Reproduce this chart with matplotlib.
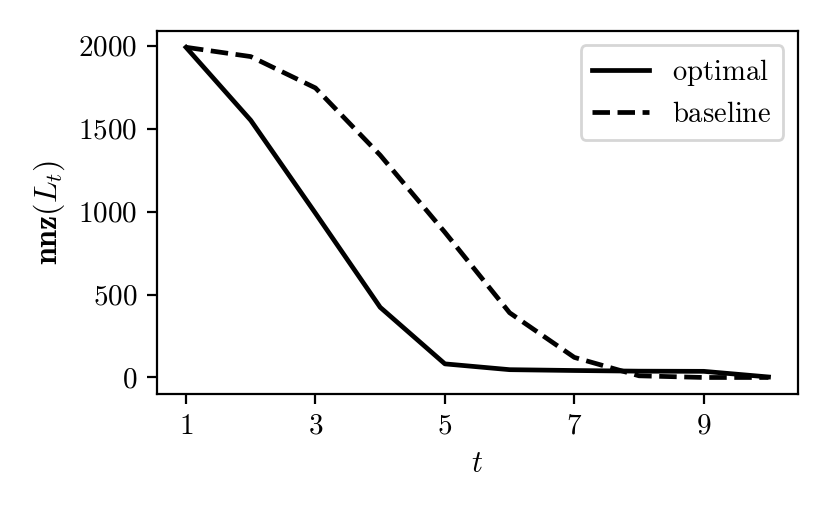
import numpy as np
import matplotlib
matplotlib.use("Agg")
import matplotlib.pyplot as plt

plt.rcParams['mathtext.fontset'] = 'cm'
plt.rcParams['font.family'] = 'serif'
plt.rcParams['font.serif'] = ['cmr10', 'DejaVu Serif']
plt.rcParams['axes.formatter.use_mathtext'] = True

# data
t = [1, 2, 3, 4, 5, 6, 7, 8, 9, 10]
optimal = [1990, 1550, 990, 423, 82, 47, 42, 38, 37, 3]
baseline = [1990, 1934, 1745, 1340, 875, 390, 121, 10, 0, 0]
xticks = [1, 3, 5, 7, 9]

fig = plt.figure(figsize=(4.15, 2.565), dpi=200)
ax = fig.add_axes([0.189, 0.232, 0.772, 0.708])

ax.plot(t, optimal, 'k-', lw=1.7, label=r'$\mathrm{optimal}$')
ax.plot(t, baseline, 'k--', lw=1.7, label=r'$\mathrm{baseline}$')

ax.set_xticks(xticks)
ax.set_xticklabels([r'$%d$' % v for v in xticks])
yt = [0, 500, 1000, 1500, 2000]
ax.set_yticks(yt)
ax.set_yticklabels([r'$%d$' % v for v in yt])
ax.tick_params(labelsize=10.5)

ax.set_xlabel(r'$t$', fontsize=11)
ax.set_ylabel(r'$\mathbf{nnz}(L_t)$', fontsize=11.5)
ax.legend(loc='upper right', fontsize=10.3)

fig.savefig('out.png', dpi=200)
